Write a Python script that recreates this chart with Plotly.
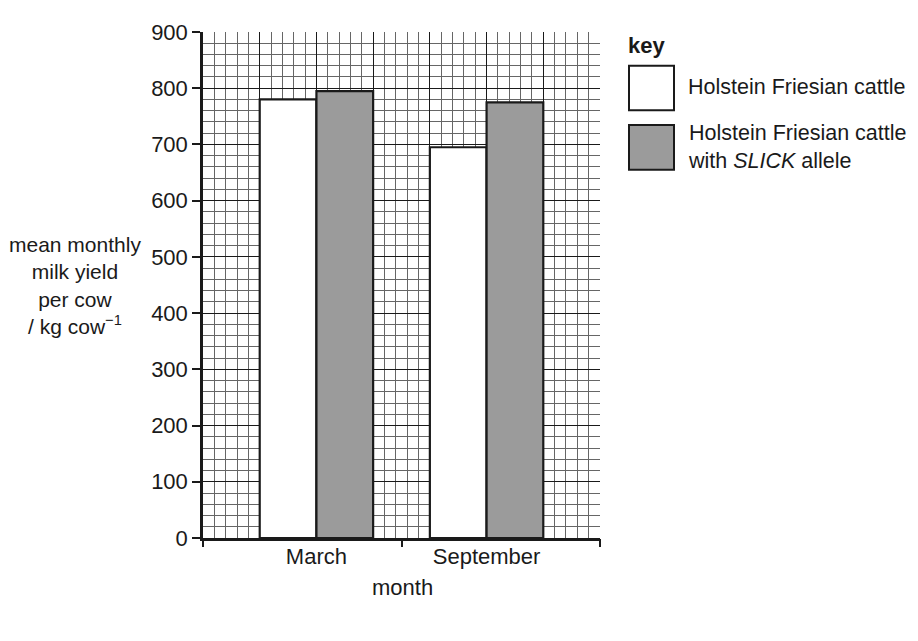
import plotly.graph_objects as go

# Values
months = ['March', 'September']
series_names = ['Holstein Friesian cattle', 'Holstein Friesian cattle<br>with <i>SLICK</i> allele']
holstein_yield = [780, 695]
slick_yield = [795, 775]
bar_colors = ['white', '#9b9b9b']

FONT = 'Liberation Sans, Arial, sans-serif'

# page has an 8px body margin, so the figure is a bit smaller than the window
OFF = 8
W, H = 910, 633
L, T = 203 - OFF, 27 - OFF
PW, PH = 397, 511
R, B = W - L - PW, H - T - PH


# convert page pixels of the reference into paper coords (for the key)
def px(x):
    return (x - OFF - L) / PW


def py(y):
    return (T + PH - (y - OFF)) / PH


fig = go.Figure()

# empty traces so the grid axis and tick-mark axis get drawn
fig.add_trace(go.Scatter(x=[], y=[], xaxis='x', yaxis='y', showlegend=False, hoverinfo='skip'))
fig.add_trace(go.Scatter(x=[], y=[], xaxis='x3', yaxis='y', showlegend=False, hoverinfo='skip'))

for name, vals, col in zip(series_names, [holstein_yield, slick_yield], bar_colors):
    fig.add_trace(go.Bar(
        x=months, y=vals, name=name, xaxis='x2', yaxis='y',
        marker=dict(color=col, line=dict(color='#1a1a1a', width=2.2)),
    ))

fig.update_layout(
    width=W, height=H,
    margin=dict(l=L, r=R, t=T, b=B),
    paper_bgcolor='white', plot_bgcolor='white',
    showlegend=False,
    barmode='group', bargap=1 / 3, bargroupgap=0,
    font=dict(family=FONT, size=22, color='#1a1a1a'),
    # graph paper: major + minor vertical lines
    xaxis=dict(
        range=[0, 7], tickmode='linear', tick0=0, dtick=1,
        showticklabels=False, ticks='',
        showgrid=True, gridcolor='#1a1a1a', gridwidth=1.2,
        minor=dict(dtick=0.2, showgrid=True, gridcolor='#666666', gridwidth=1, ticks=''),
        showline=True, linecolor='#1a1a1a', linewidth=2.5,
        zeroline=False, fixedrange=True,
    ),
    # category axis carrying the bars
    xaxis2=dict(
        type='category', overlaying='x', anchor='y', side='bottom',
        range=[-2 / 3, 5 / 3], showgrid=False, showline=False, ticks='',
        tickfont=dict(size=22), ticklabelstandoff=3, zeroline=False,
    ),
    # tick marks along the month axis
    xaxis3=dict(
        overlaying='x', anchor='y', side='bottom', range=[0, 7],
        tickmode='array', tickvals=[0, 3.5, 7], showticklabels=False,
        ticks='outside', ticklen=8, tickwidth=2, tickcolor='#1a1a1a',
        showgrid=False, showline=False, zeroline=False,
    ),
    yaxis=dict(
        range=[0, 900], tickmode='linear', tick0=0, dtick=100,
        ticks='outside', ticklen=8, tickwidth=2, tickcolor='#1a1a1a',
        tickfont=dict(size=22),
        showgrid=True, gridcolor='#1a1a1a', gridwidth=1.2,
        minor=dict(dtick=20, showgrid=True, gridcolor='#666666', gridwidth=1, ticks=''),
        showline=True, linecolor='#1a1a1a', linewidth=2.5,
        zeroline=False, fixedrange=True,
    ),
)

# axis titles
fig.add_annotation(
    text='mean monthly<br>milk yield<br>per cow<br>/ kg cow<sup>−1</sup>',
    xref='paper', yref='paper', x=px(75), y=py(283),
    xanchor='center', yanchor='middle', align='center', showarrow=False,
    font=dict(size=21),
)
fig.add_annotation(
    text='month', xref='paper', yref='paper', x=px(402), y=py(588),
    xanchor='center', yanchor='middle', showarrow=False, font=dict(size=22),
)

# key
fig.add_annotation(
    text='<b>key</b>', xref='paper', yref='paper', x=px(626), y=py(41),
    xanchor='left', yanchor='middle', showarrow=False, font=dict(size=22),
)
swatch_tops = [61, 121]
for name, col, top in zip(series_names, bar_colors, swatch_tops):
    fig.add_shape(
        type='rect', xref='paper', yref='paper',
        x0=px(629), x1=px(674), y0=py(top), y1=py(top + 45),
        fillcolor=col, line=dict(color='#1a1a1a', width=2),
    )
    fig.add_annotation(
        text=name, xref='paper', yref='paper', x=px(686), y=py(top + 22),
        xanchor='left', yanchor='middle', align='left', showarrow=False,
        font=dict(size=21.5),
    )

fig.write_html('out.html')
